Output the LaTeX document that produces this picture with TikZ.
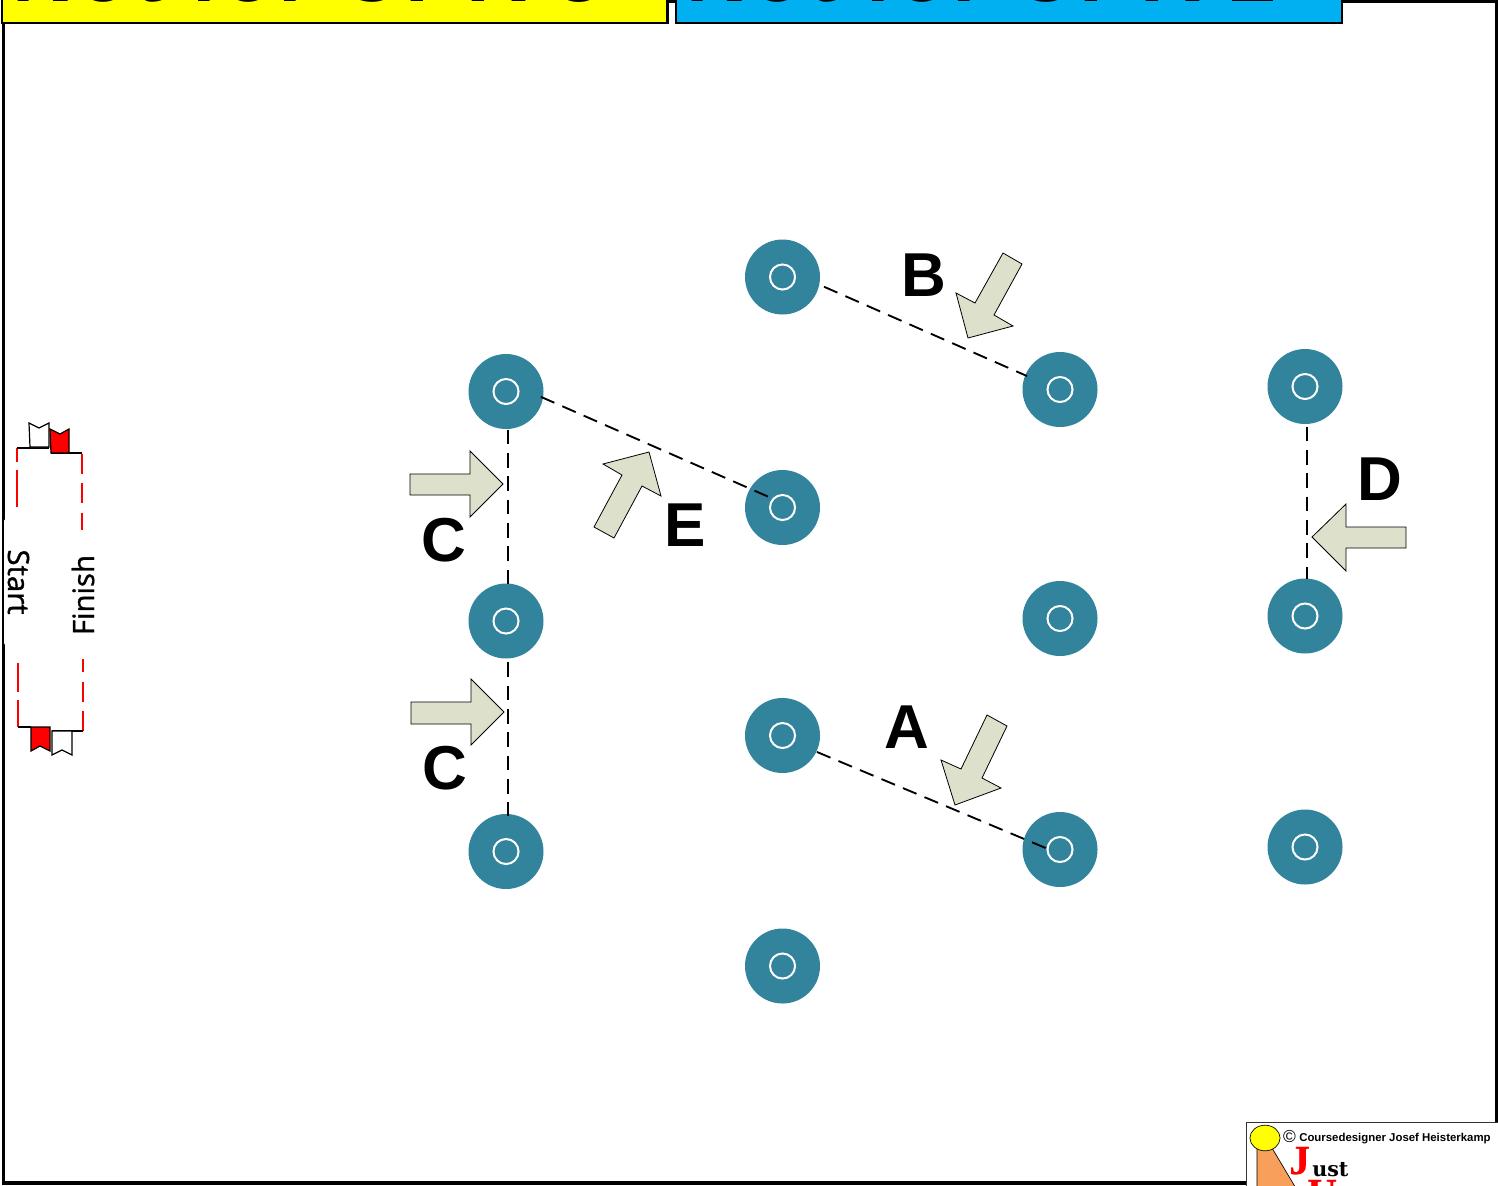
\documentclass[tikz,border=0pt]{standalone}
\usepackage{fontspec}
\setmainfont{Liberation Sans}
\newfontfamily\gatefont[FakeBold=1.2]{Open Sans}
\newfontfamily\logofont[FakeBold=0.6]{Liberation Serif}
\newfontfamily\logoserif{DejaVu Serif}
\newfontfamily\bannerfont[LetterSpace=5]{Liberation Sans}
\usetikzlibrary{calc}
\definecolor{conecol}{HTML}{31849B}
\definecolor{arrowcol}{HTML}{DDE1CB}
\definecolor{catyellow}{HTML}{FFFF00}
\definecolor{catblue}{HTML}{00B0F0}
\definecolor{logoorange}{HTML}{F79F5B}
\tikzset{
  x=0.75pt,y=-0.75pt,
  cone/.style={circle,fill=conecol,draw=none,minimum size=56.25pt,inner sep=0pt,outer sep=0pt},
  conering/.style={draw=white,line width=1.5pt},
  dashline/.style={draw=black,line width=1.4pt,dash pattern=on 11pt off 6.5pt},
  gateline/.style={draw=red,line width=1.1pt,dash pattern=on 15pt off 7pt},
  gateleft/.style={draw=red,line width=1.1pt,dash pattern=on 10.5pt off 6pt on 28pt off 6pt},
  gatelow/.style={draw=red,line width=1.1pt,dash pattern=on 22pt off 6pt on 20pt off 6pt},
  blackline/.style={draw=black,line width=1.1pt},
  flagw/.style={draw=black,fill=white,line width=0.9pt},
  flagr/.style={draw=black,fill=red,line width=0.9pt},
  arrowshape/.style={draw=black,fill=arrowcol,line width=0.6pt,line join=miter},
  letterlab/.style={font=\fontsize{46.5}{46.5}\selectfont\bfseries,text=black,inner sep=0pt},
  banner/.style={draw=black,line width=1.8pt},
  bannertext/.style={font=\bannerfont\fontsize{63.75}{64}\selectfont\bfseries,text=black,inner sep=0pt,anchor=base west},
  gatetext/.style={font=\gatefont\fontsize{22}{22}\selectfont,text=black,inner sep=0pt},
}
\begin{document}
\begin{tikzpicture}
\useasboundingbox (0,0) rectangle (1498,1185);
\begin{scope}
\clip (0,0) rectangle (1498,1185);
\fill[white] (0,0) rectangle (1498,1185);
% border
\draw[black,line width=2.6pt] (3.5,1.5) rectangle (1496.5,1183);
% banners
\draw[banner,fill=catyellow] (2,-5) rectangle (667.5,23);
\draw[banner,fill=catblue] (676,-5) rectangle (1342,23);
\begin{scope}
\clip (2,0) rectangle (1342,22);
\node[bannertext] (ban1) at (12,2) {Not for CPR 3};
\node[bannertext] (ban2) at (686,2) {Not for CPR 2};
\end{scope}
% cones
\foreach \n/\px/\py in {c1/782.5/277,c2/1060/389.5,c3/1305/386.5,c4/506/391.5,c5/782.5/507.5,c6/506/621,c7/1060/618.5,c8/1305/616,c9/782.5/735.5,c10/506/851.5,c11/1060/849.5,c12/1305/847,c13/782.5/966}{
  \node[cone] (\n) at (\px,\py) {};
  \draw[conering] (\n.center) circle (9.4pt);
}
% dashed lines
\draw[dashline,shorten <=34pt,shorten >=27pt] ([yshift=6.4pt]c1.center) -- ([yshift=-0.8pt]c2.center);
\draw[dashline,shorten <=28.6pt,shorten >=6pt] ([yshift=7.5pt]c4.center) -- ([yshift=3.4pt]c5.center);
\draw[dashline,shorten <=28pt,shorten >=10pt] ([yshift=-1.5pt]c9.center) -- ([yshift=-3.4pt]c11.center);
\draw[dashline,shorten <=28.5pt,shorten >=27pt] ([xshift=1.5pt]c4.center) -- ([xshift=1.5pt]c6.center);
\draw[dashline,shorten <=31pt,shorten >=27pt] ([xshift=1.5pt]c6.center) -- ([xshift=1.5pt]c10.center);
\draw[dashline,shorten <=30pt,shorten >=28pt] ([xshift=1.5pt]c3.center) -- ([xshift=1.5pt]c8.center);
% direction arrows
\draw[arrowshape] (1003,253) -- (1022,264) -- (994,315) -- (1013,326) -- (968,338) -- (956,293) -- (975,303) -- cycle;
\draw[arrowshape] (987,715) -- (1007,726) -- (982,778) -- (1001,788) -- (955,805) -- (941,760) -- (961,769) -- cycle;
\draw[arrowshape] (649,452) -- (603,464) -- (622,475) -- (594,527) -- (614,538) -- (642,486) -- (661,496) -- cycle;
\draw[arrowshape] (410,474) -- (470,474) -- (470,451) -- (503,484) -- (470,517) -- (470,495) -- (410,495) -- cycle;
\draw[arrowshape] (411,702) -- (471,702) -- (471,679) -- (504,712) -- (471,745) -- (471,724) -- (411,724) -- cycle;
\draw[arrowshape] (1312,537) -- (1346,504) -- (1346,527) -- (1406,527) -- (1406,548) -- (1346,548) -- (1346,571) -- cycle;
% letters
\node[letterlab] (lb) at (923.5,275) {B};
\node[letterlab] (le) at (685.5,525) {E};
\node[letterlab] (lc1) at (444,540) {C};
\node[letterlab] (lc2) at (445,768.5) {C};
\node[letterlab] (ld) at (1379.5,479) {D};
\node[letterlab] (la) at (907,727) {A};
% start / finish gate
\fill[white,rounded corners=6pt] (2.6,517) rectangle (95,647);
\draw[black,line width=0.8pt] (3,517) -- (3,647);
\draw[gateleft] (17,448) -- (17,507);
\draw[gateline] (82,454) -- (82,530);
\draw[gatelow] (18,663) -- (18,727);
\draw[gateline] (83,731) -- (83,659);
\draw[blackline] (17,448) -- (49,448);
\draw[blackline] (51,453) -- (82,453);
\draw[blackline] (18,727) -- (31,727);
\draw[blackline] (52,731) -- (83,731);
\draw[flagw] (30,447) -- (29,423) -- (39,428) -- (49,423) -- (49,447) -- cycle;
\draw[flagr] (51,453) -- (50,429) -- (60,434) -- (69,429) -- (69,453) -- cycle;
\draw[flagr] (31,727) -- (50,727) -- (50,751) -- (40,746) -- (31,751) -- cycle;
\draw[flagw] (52,731) -- (72,731) -- (72,755) -- (62,750) -- (52,755) -- cycle;
\node[gatetext,rotate=-90] (startlab) at (18.5,582) {Start};
\node[gatetext,rotate=90] (finishlab) at (83,595) {Finish};
% logo
\draw[fill=white,draw=black!80,line width=0.6pt] (1246,1122) rectangle (1505,1195);
\fill[logoorange,draw=black,line width=0.5pt] (1257,1148) -- (1272,1148) -- (1297,1190) -- (1257,1190) -- cycle;
\draw[fill=catyellow,draw=black,line width=0.5pt] (1265,1138) ellipse (11.3pt and 9.6pt);
\node[inner sep=0pt,anchor=base west,font=\fontsize{8.55}{8.55}\selectfont\bfseries] (logotext) at (1299,1141) {Coursedesigner Josef Heisterkamp};
\node[inner sep=0pt,font=\fontsize{13}{13}\selectfont] (logoc) at (1289.5,1136) {©};
\node[inner sep=0pt,anchor=base west,font=\logofont\fontsize{31}{31}\selectfont\bfseries,text=red] (logoj) at (1289,1174) {J};
\node[inner sep=0pt,anchor=base west,font=\logoserif\fontsize{15.5}{15.5}\selectfont\bfseries] (logoust) at (1312,1176) {ust};
\node[inner sep=0pt,anchor=base west,font=\logofont\fontsize{31}{31}\selectfont\bfseries,text=red] (logou) at (1307,1207) {U};
\end{scope}
\end{tikzpicture}
\end{document}
